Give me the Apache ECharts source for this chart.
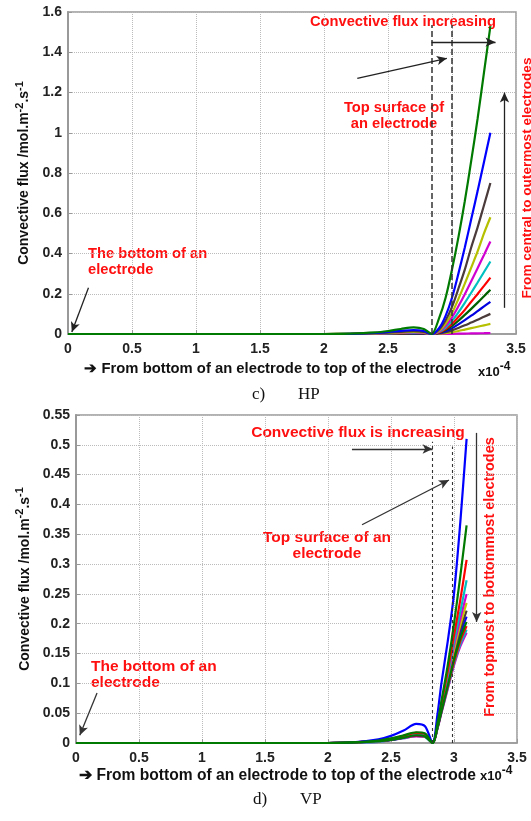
<!DOCTYPE html>
<html><head><meta charset="utf-8">
<script src="https://cdn.jsdelivr.net/npm/echarts@6/dist/echarts.min.js"></script>
<style>html,body{margin:0;padding:0;background:#fff}#c{width:531px;height:821px}</style>
</head><body><div id="c"></div>
<script>
// ---------- data (x in units of 1e-4) ----------
const xTicks = ['0','0.5','1','1.5','2','2.5','3','3.5'];
const hpX = [0, 2.0, 2.2, 2.4, 2.5, 2.6, 2.7, 2.78, 2.84, 2.9, 2.95, 3.0, 3.05, 3.1, 3.15, 3.2, 3.25, 3.3];
const hp1  = [0, 0, 0.002, 0.008, 0.015, 0.025, 0.033, 0.025, 0, 0.08, 0.18, 0.32, 0.48, 0.66, 0.86, 1.07, 1.3, 1.53];
const hp2  = [0, 0, 0.001, 0.005, 0.010, 0.016, 0.020, 0.015, 0, 0.03, 0.09, 0.18, 0.30, 0.43, 0.57, 0.71, 0.855, 1.0];
const hp3  = [0, 0, 0.001, 0.004, 0.007, 0.011, 0.014, 0.010, 0, 0.022, 0.068, 0.135, 0.225, 0.32, 0.43, 0.53, 0.64, 0.75];
const hp4  = [0, 0, 0.001, 0.003, 0.005, 0.008, 0.010, 0.008, 0, 0.017, 0.052, 0.104, 0.174, 0.25, 0.33, 0.41, 0.50, 0.58];
const hp5  = [0, 0, 0, 0.002, 0.004, 0.006, 0.008, 0.006, 0, 0.014, 0.041, 0.083, 0.138, 0.198, 0.262, 0.327, 0.393, 0.46];
const hp6  = [0, 0, 0, 0.002, 0.003, 0.005, 0.006, 0.005, 0, 0.011, 0.032, 0.065, 0.108, 0.155, 0.205, 0.256, 0.308, 0.36];
const hp7  = [0, 0, 0, 0.001, 0.003, 0.004, 0.005, 0.004, 0, 0.008, 0.025, 0.05, 0.084, 0.12, 0.16, 0.199, 0.239, 0.28];
const hp8  = [0, 0, 0, 0.001, 0.002, 0.003, 0.004, 0.003, 0, 0.007, 0.02, 0.04, 0.066, 0.095, 0.125, 0.156, 0.188, 0.22];
const hp9  = [0, 0, 0, 0.001, 0.002, 0.003, 0.003, 0.002, 0, 0.005, 0.014, 0.029, 0.048, 0.069, 0.091, 0.114, 0.137, 0.16];
const hp10 = [0, 0, 0, 0.001, 0.001, 0.002, 0.002, 0.002, 0, 0.003, 0.009, 0.018, 0.03, 0.043, 0.057, 0.071, 0.086, 0.10];
const hp11 = [0, 0, 0, 0, 0.001, 0.001, 0.002, 0.001, 0, 0.0015, 0.0045, 0.009, 0.015, 0.022, 0.029, 0.036, 0.043, 0.05];
const hp12 = [0, 0, 0, 0, 0.001, 0.001, 0.001, 0.001, 0, 0, 0, 0.001, 0.0015, 0.002, 0.003, 0.0035, 0.004, 0.005];
const hpSeries = [hp1, hp2, hp3, hp4, hp5, hp6, hp7, hp8, hp9, hp10, hp11, hp12];
const hpColors = ['#007a00','#0000ff','#4b3b3b','#b5c000','#d000d0','#00c0c0','#ff0000','#006000','#0000e0','#4b3b3b','#b5c000','#d000d0'];

const vpX = [0, 2.0, 2.2, 2.4, 2.5, 2.6, 2.7, 2.77, 2.83, 2.87, 2.9, 2.95, 3.0, 3.05, 3.1];
const vp1  = [0, 0, 0.001, 0.006, 0.012, 0.021, 0.032, 0.028, 0, 0.05, 0.1, 0.17, 0.25, 0.37, 0.51];
const vp2  = [0, 0, 0.001, 0.004, 0.008, 0.013, 0.018, 0.016, 0, 0.035, 0.07, 0.13, 0.2, 0.28, 0.365];
const vp3  = [0, 0, 0.001, 0.004, 0.007, 0.012, 0.017, 0.015, 0, 0.032, 0.065, 0.12, 0.18, 0.24, 0.307];
const vp4  = [0, 0, 0.001, 0.003, 0.007, 0.011, 0.016, 0.014, 0, 0.03, 0.062, 0.115, 0.17, 0.22, 0.273];
const vp5  = [0, 0, 0.001, 0.003, 0.006, 0.011, 0.015, 0.013, 0, 0.03, 0.06, 0.11, 0.163, 0.208, 0.25];
const vp6  = [0, 0, 0.001, 0.003, 0.006, 0.010, 0.014, 0.013, 0, 0.029, 0.058, 0.106, 0.156, 0.198, 0.235];
const vp7  = [0, 0, 0.001, 0.003, 0.006, 0.010, 0.014, 0.012, 0, 0.028, 0.056, 0.102, 0.15, 0.19, 0.222];
const vp8  = [0, 0, 0.001, 0.003, 0.005, 0.009, 0.013, 0.012, 0, 0.027, 0.054, 0.099, 0.145, 0.183, 0.212];
const vp9  = [0, 0, 0.001, 0.003, 0.005, 0.009, 0.013, 0.011, 0, 0.027, 0.053, 0.096, 0.14, 0.176, 0.203];
const vp10 = [0, 0, 0.001, 0.003, 0.005, 0.009, 0.012, 0.011, 0, 0.026, 0.052, 0.094, 0.136, 0.171, 0.196];
const vp11 = [0, 0, 0.001, 0.002, 0.005, 0.008, 0.012, 0.010, 0, 0.026, 0.051, 0.092, 0.133, 0.166, 0.19];
const vp12 = [0, 0, 0.001, 0.002, 0.005, 0.008, 0.011, 0.010, 0, 0.025, 0.05, 0.09, 0.13, 0.162, 0.185];
const vpSeries = [vp1, vp2, vp3, vp4, vp5, vp6, vp7, vp8, vp9, vp10, vp11, vp12];
const vpColors = ['#0000ff','#007a00','#ff0000','#00c0c0','#d000d0','#c8c800','#4b3b3b','#0000ff','#007a00','#ff0000','#00c0c0','#d000d0'];
const vpDrawOrder = [11, 10, 9, 7, 6, 5, 4, 3, 2, 0, 8, 1];

// annotation anchors (data coords)
const hpDash = [2.84, 3.0];
const vpDash = [2.83, 2.99];

// ---------- chart ----------
const FONT = 'Liberation Sans, Arial, sans-serif';
const chart = echarts.init(document.getElementById('c'), null, {renderer: 'canvas'});

function xAxisOf(gi, nameSize, gap) {
  return {
    gridIndex: gi, type: 'value', min: 0, max: 3.5, interval: 0.5,
    name: '➔ From bottom of an electrode to top of the electrode',
    nameLocation: 'middle', nameGap: gap,
    nameTextStyle: {fontFamily: FONT, fontWeight: 'bold', fontSize: nameSize, color: '#111', padding: [0, 38, 0, 0]},
    axisLine: {lineStyle: {color: '#999', width: 1.5}},
    axisTick: {inside: true, length: 4, lineStyle: {color: '#999'}},
    axisLabel: {fontFamily: FONT, fontWeight: 'bold', fontSize: 14, color: '#222', margin: 8,
      formatter: v => xTicks[Math.round(v / 0.5)]},
    splitLine: {show: true, lineStyle: {color: '#bbb', type: 'dotted', width: 1}}
  };
}
function yAxisOf(gi, max, interval, gap) {
  return {
    gridIndex: gi, type: 'value', min: 0, max: max, interval: interval,
    name: 'Convective flux /mol.m{s|-2}.s{s|-1}',
    nameLocation: 'middle', nameGap: gap, nameRotate: 90,
    nameTextStyle: {fontFamily: FONT, fontWeight: 'bold', fontSize: 14, color: '#111',
      rich: {s: {fontFamily: FONT, fontWeight: 'bold', fontSize: 11, color: '#111', padding: [0, 0, 9, 0]}}},
    axisLine: {show: true, lineStyle: {color: '#999', width: 2}},
    axisTick: {show: true, inside: true, length: 4, lineStyle: {color: '#999'}},
    axisLabel: {fontFamily: FONT, fontWeight: 'bold', fontSize: 14, color: '#222', margin: 6},
    splitLine: {show: true, lineStyle: {color: '#bbb', type: 'dotted', width: 1}}
  };
}

function arrowLine(a, b, sym) {
  return [{coord: a, symbol: sym[0]}, {coord: b, symbol: sym[1]}];
}

const series = [];
// HP: draw smallest first so the largest (green) is on top
for (let i = hpSeries.length - 1; i >= 0; i--) {
  series.push({
    type: 'line', xAxisIndex: 0, yAxisIndex: 0, showSymbol: false, smooth: 0.3,
    data: hpX.map((x, k) => [x, hpSeries[i][k]]),
    lineStyle: {color: hpColors[i], width: 2.2}, itemStyle: {color: hpColors[i]}, silent: true, z: 3
  });
}
// HP annotations
series.push({
  type: 'line', xAxisIndex: 0, yAxisIndex: 0, data: [], silent: true,
  markLine: {
    silent: true, animation: false, label: {show: false},
    lineStyle: {color: '#333', type: 'dashed', width: 1.5},
    data: [
      arrowLine([hpDash[0], 0], [hpDash[0], 1.535], ['none', 'none']),
      arrowLine([hpDash[1], 0], [hpDash[1], 1.535], ['none', 'none'])
    ]
  }
});
series.push({
  type: 'line', xAxisIndex: 0, yAxisIndex: 0, data: [], silent: true,
  markLine: {
    silent: true, animation: false, symbolSize: [7, 10], label: {show: false},
    lineStyle: {color: '#222', type: 'solid', width: 1.3},
    data: [
      arrowLine([2.84, 1.45], [3.34, 1.45], ['none', 'arrow']),
      arrowLine([2.26, 1.27], [2.96, 1.37], ['none', 'arrow']),
      arrowLine([3.41, 0.13], [3.41, 1.2], ['none', 'arrow']),
      arrowLine([0.16, 0.23], [0.03, 0.01], ['none', 'arrow'])
    ]
  }
});

// VP
for (const i of vpDrawOrder) {
  series.push({
    type: 'line', xAxisIndex: 1, yAxisIndex: 1, showSymbol: false, smooth: 0.3,
    data: vpX.map((x, k) => [x, vpSeries[i][k]]),
    lineStyle: {color: vpColors[i], width: 2.2}, itemStyle: {color: vpColors[i]}, silent: true, z: 3
  });
}
series.push({
  type: 'line', xAxisIndex: 1, yAxisIndex: 1, data: [], silent: true,
  markLine: {
    silent: true, animation: false, label: {show: false},
    lineStyle: {color: '#333', type: [3, 3], width: 1.1},
    data: [
      arrowLine([vpDash[0], 0], [vpDash[0], 0.505], ['none', 'none']),
      arrowLine([vpDash[1], 0], [vpDash[1], 0.497], ['none', 'none'])
    ]
  }
});
series.push({
  type: 'line', xAxisIndex: 1, yAxisIndex: 1, data: [], silent: true,
  markLine: {
    silent: true, animation: false, symbolSize: [7, 10], label: {show: false},
    lineStyle: {color: '#333', type: 'solid', width: 1.3},
    data: [
      arrowLine([2.19, 0.493], [2.83, 0.493], ['none', 'arrow']),
      arrowLine([2.27, 0.366], [2.96, 0.441], ['none', 'arrow']),
      arrowLine([3.18, 0.52], [3.18, 0.203], ['none', 'arrow']),
      arrowLine([0.167, 0.084], [0.03, 0.013], ['none', 'arrow'])
    ]
  }
});

const red = {fontFamily: FONT, fontWeight: 'bold', fill: '#ff1010'};
const graphic = [
  {type: 'text', x: 403, y: 22, style: Object.assign({text: 'Convective flux increasing', fontSize: 14.7, align: 'center', verticalAlign: 'middle'}, red)},
  {type: 'text', x: 394, y: 116, style: Object.assign({text: 'Top surface of\nan electrode', fontSize: 14.7, lineHeight: 16, align: 'center', verticalAlign: 'middle'}, red)},
  {type: 'text', x: 88, y: 262, style: Object.assign({text: 'The bottom of an\nelectrode', fontSize: 14.7, lineHeight: 16, align: 'left', verticalAlign: 'middle'}, red)},
  {type: 'text', x: 527, y: 178, rotation: Math.PI / 2, style: Object.assign({text: 'From central to outermost electrodes', fontSize: 13.6, align: 'center', verticalAlign: 'middle'}, red)},
  {type: 'text', x: 478, y: 372, style: {text: 'x10{s|-4}', fontFamily: FONT, fontWeight: 'bold', fontSize: 13, fill: '#111', verticalAlign: 'middle',
     rich: {s: {fontFamily: FONT, fontWeight: 'bold', fontSize: 12, fill: '#111', padding: [0, 0, 10, 0]}}}},
  {type: 'text', x: 252, y: 395, style: {text: 'c)', fontFamily: 'Liberation Serif, serif', fontSize: 17, fill: '#111', verticalAlign: 'middle'}},
  {type: 'text', x: 298, y: 395, style: {text: 'HP', fontFamily: 'Liberation Serif, serif', fontSize: 17, fill: '#111', verticalAlign: 'middle'}},

  {type: 'text', x: 358, y: 433, style: Object.assign({text: 'Convective flux is increasing', fontSize: 15.5, align: 'center', verticalAlign: 'middle'}, red)},
  {type: 'text', x: 327, y: 546, style: Object.assign({text: 'Top surface of an\nelectrode', fontSize: 15.5, lineHeight: 16, align: 'center', verticalAlign: 'middle'}, red)},
  {type: 'text', x: 91, y: 675, style: Object.assign({text: 'The bottom of an\nelectrode', fontSize: 15.5, lineHeight: 16, align: 'left', verticalAlign: 'middle'}, red)},
  {type: 'text', x: 490, y: 577, rotation: Math.PI / 2, style: Object.assign({text: 'From topmost to bottommost electrodes', fontSize: 14.5, align: 'center', verticalAlign: 'middle'}, red)},
  {type: 'text', x: 480, y: 776, style: {text: 'x10{s|-4}', fontFamily: FONT, fontWeight: 'bold', fontSize: 13, fill: '#111', verticalAlign: 'middle',
     rich: {s: {fontFamily: FONT, fontWeight: 'bold', fontSize: 12, fill: '#111', padding: [0, 0, 10, 0]}}}},
  {type: 'text', x: 253, y: 800, style: {text: 'd)', fontFamily: 'Liberation Serif, serif', fontSize: 17, fill: '#111', verticalAlign: 'middle'}},
  {type: 'text', x: 300, y: 800, style: {text: 'VP', fontFamily: 'Liberation Serif, serif', fontSize: 17, fill: '#111', verticalAlign: 'middle'}}
];

chart.setOption({
  animation: false,
  backgroundColor: '#fff',
  grid: [
    {left: 68, top: 12, width: 448, height: 322, show: true, borderColor: '#999', borderWidth: 1.5},
    {left: 76, top: 415, width: 441, height: 328, show: true, borderColor: '#999', borderWidth: 1.5}
  ],
  xAxis: [xAxisOf(0, 14.8, 27), xAxisOf(1, 15.6, 25)],
  yAxis: [yAxisOf(0, 1.6, 0.2, 24), yAxisOf(1, 0.55, 0.05, 32)],
  series: series,
  graphic: graphic
});
</script></body></html>
